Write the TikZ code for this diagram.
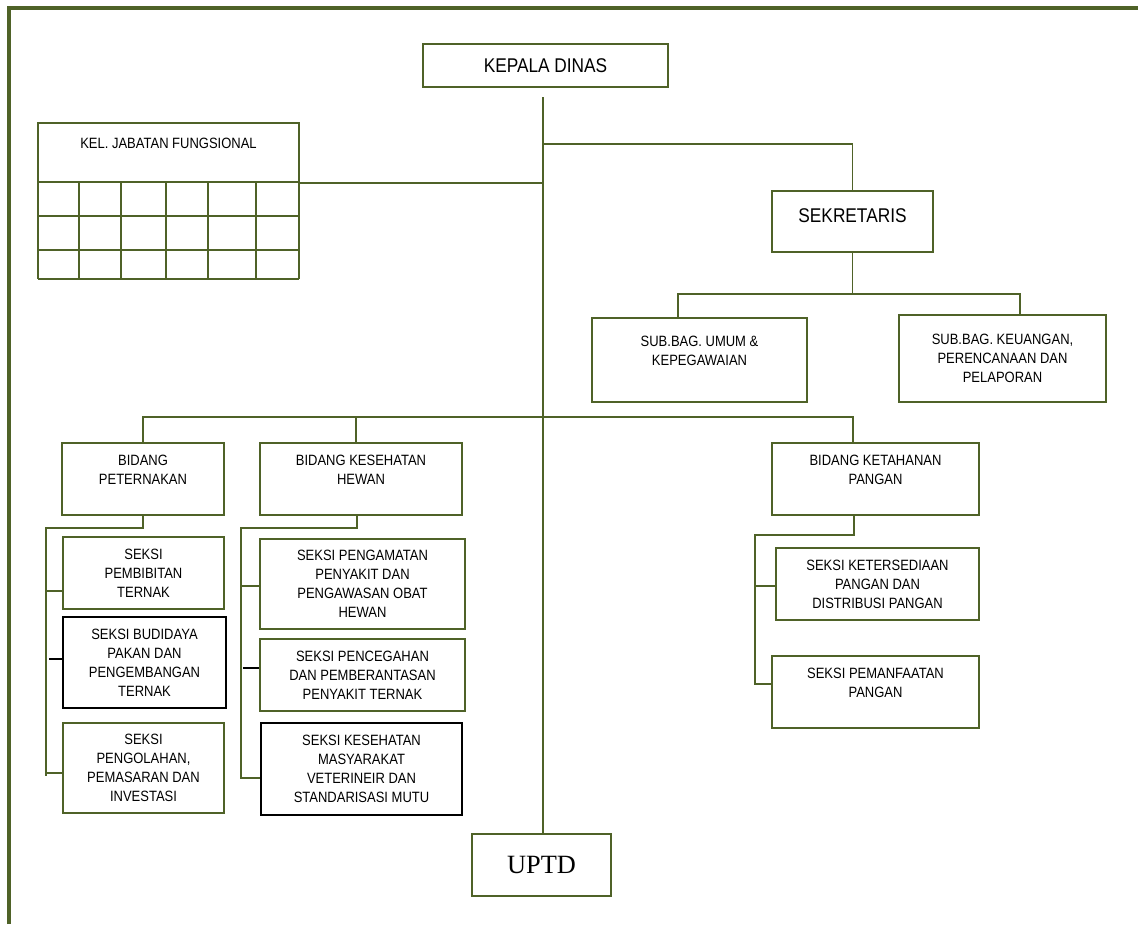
\documentclass[tikz,border=0pt]{standalone}
\usepackage{fontspec}
\setmainfont{Liberation Sans}[FakeStretch=0.87]
\newfontfamily\uptdfont{Liberation Serif}
\usepackage{tikz}
\usetikzlibrary{positioning,calc}
\definecolor{orggreen}{RGB}{79,98,40}

\begin{document}
\begin{tikzpicture}[
                x=0.02cm, y=-0.02cm,
                font=\fontsize{8.5}{10.8}\selectfont,
                unit/.style={rectangle, draw=orggreen, line width=1.3pt, fill=white, align=center, inner sep=0pt},
                unitk/.style={unit, draw=black, line width=1.4pt},
                big/.style={font=\fontsize{11.3}{13.5}\selectfont},
                link/.style={draw=orggreen, line width=1.1pt},
                tick/.style={draw=black, line width=1.1pt},
                frame/.style={draw=orggreen, line width=2.4pt},
            ]
            \useasboundingbox (0,0) rectangle (1138,924);
            \draw[frame] (9,924) -- (9,8) -- (1138,8);

            \node[unit, big, minimum width=4.9cm, minimum height=0.86cm] (kadis) at (545.5,65.5) {KEPALA DINAS};
            \node[unit, minimum width=5.22cm, minimum height=1.18cm] (jafung) at (168.5,152.5) {KEL. JABATAN FUNGSIONAL\\\mbox{}};
            \node[unit, big, minimum width=3.22cm, minimum height=1.22cm] (sekre) at (852.5,221.5) {SEKRETARIS\\[-7pt]\mbox{}};
            \node[unit, minimum width=4.3cm, minimum height=1.68cm] (umum) at (699.5,360) {SUB.BAG. UMUM \&\\KEPEGAWAIAN\\\mbox{}};
            \node[unit, minimum width=4.14cm, minimum height=1.74cm] (keu) at (1002.5,358.5) {SUB.BAG. KEUANGAN,\\PERENCANAAN DAN\\PELAPORAN};

            \node[unit, minimum width=3.24cm, minimum height=1.44cm] (bpet) at (143,479) {BIDANG\\PETERNAKAN\\\mbox{}};
            \node[unit, minimum width=4.04cm, minimum height=1.44cm] (bkeswan) at (361,479) {BIDANG KESEHATAN\\HEWAN\\\mbox{}};
            \node[unit, minimum width=4.14cm, minimum height=1.44cm] (bketpang) at (875.5,479) {BIDANG KETAHANAN\\PANGAN\\\mbox{}};

            \node[unit, minimum width=3.22cm, minimum height=1.44cm] (pembibitan) at (143.5,573) {SEKSI\\PEMBIBITAN\\TERNAK};
            \node[unitk, minimum width=3.26cm, minimum height=1.82cm] (budidaya) at (144.5,662.5) {SEKSI BUDIDAYA\\PAKAN DAN\\PENGEMBANGAN\\TERNAK};
            \node[unit, minimum width=3.22cm, minimum height=1.8cm] (pengolahan) at (143.5,768) {SEKSI\\PENGOLAHAN,\\PEMASARAN DAN\\INVESTASI};

            \node[unit, minimum width=4.1cm, minimum height=1.8cm] (pengamatan) at (362.5,584) {SEKSI PENGAMATAN\\PENYAKIT DAN\\PENGAWASAN OBAT\\HEWAN};
            \node[unit, minimum width=4.1cm, minimum height=1.44cm] (pencegahan) at (362.5,675) {SEKSI PENCEGAHAN\\DAN PEMBERANTASAN\\PENYAKIT TERNAK};
            \node[unitk, minimum width=4.02cm, minimum height=1.84cm] (kesmavet) at (361.5,769) {SEKSI KESEHATAN\\MASYARAKAT\\VETERINEIR DAN\\STANDARISASI MUTU};

            \node[unit, minimum width=4.06cm, minimum height=1.44cm] (ketersediaan) at (877.5,584) {SEKSI KETERSEDIAAN\\PANGAN DAN\\DISTRIBUSI PANGAN};
            \node[unit, minimum width=4.14cm, minimum height=1.44cm] (pemanfaatan) at (875.5,692) {SEKSI PEMANFAATAN\\PANGAN\\\mbox{}};

            \node[unit, font=\uptdfont\fontsize{15}{18}\selectfont, minimum width=2.78cm, minimum height=1.24cm] (uptd) at (541.5,865) {UPTD};

            \foreach \gx in {38,79,121,166,208,256,299}
                \draw[link] (\gx,182) -- (\gx,279);
            \foreach \gy in {216,250,279}
                \draw[link] (38,\gy) -- (299,\gy);

            \coordinate (spine) at (543,97);
            \coordinate (sekbus) at (543,144);
            \coordinate (subbus) at (852,294);
            \coordinate (bidbus) at (543,417);
            \coordinate (petrail) at (46,528);
            \coordinate (kesrail) at (241,528);
            \coordinate (panrail) at (755,535);

            \draw[link] (spine) -- (spine |- uptd.north);
            \draw[link] (sekbus) -| (sekre.north);
            \draw[link] (jafung.south east) -- (jafung.south east -| spine);
            \draw[link] (sekre.south) -- (sekre.south |- subbus);
            \draw[link] ([xshift=-0.43cm]umum.north) |- (subbus) -| ([xshift=0.35cm]keu.north);
            \draw[link] (bpet.north) |- (bidbus) -| ([xshift=-0.45cm]bketpang.north);
            \draw[link] ([xshift=-0.1cm]bkeswan.north) -- ([xshift=-0.1cm]bkeswan.north |- bidbus);

            \draw[link] (bpet.south) |- (petrail) -- ++(0,248);
            \draw[link] ([yshift=-0.36cm]pembibitan.west) -- ++(-17,0);
            \draw[tick] ([yshift=0.07cm]budidaya.west) -- ++(-13,0);
            \draw[link] ([yshift=-0.1cm]pengolahan.west) -- ++(-17,0);

            \draw[link] ([xshift=-0.08cm]bkeswan.south) |- (kesrail) -- ++(0,250);
            \draw[link] ([yshift=-0.04cm]pengamatan.west) -- ++(-19,0);
            \draw[tick] ([yshift=0.14cm]pencegahan.west) -- ++(-16,0);
            \draw[link] ([yshift=-0.18cm]kesmavet.west) -- ++(-20,0);

            \draw[link] ([xshift=-0.43cm]bketpang.south) |- (panrail) -- ++(0,149);
            \draw[link] ([yshift=-0.04cm]ketersediaan.west) -- ++(-21,0);
            \draw[link] ([yshift=0.16cm]pemanfaatan.west) -- ++(-17,0);
        \end{tikzpicture}
\end{document}
